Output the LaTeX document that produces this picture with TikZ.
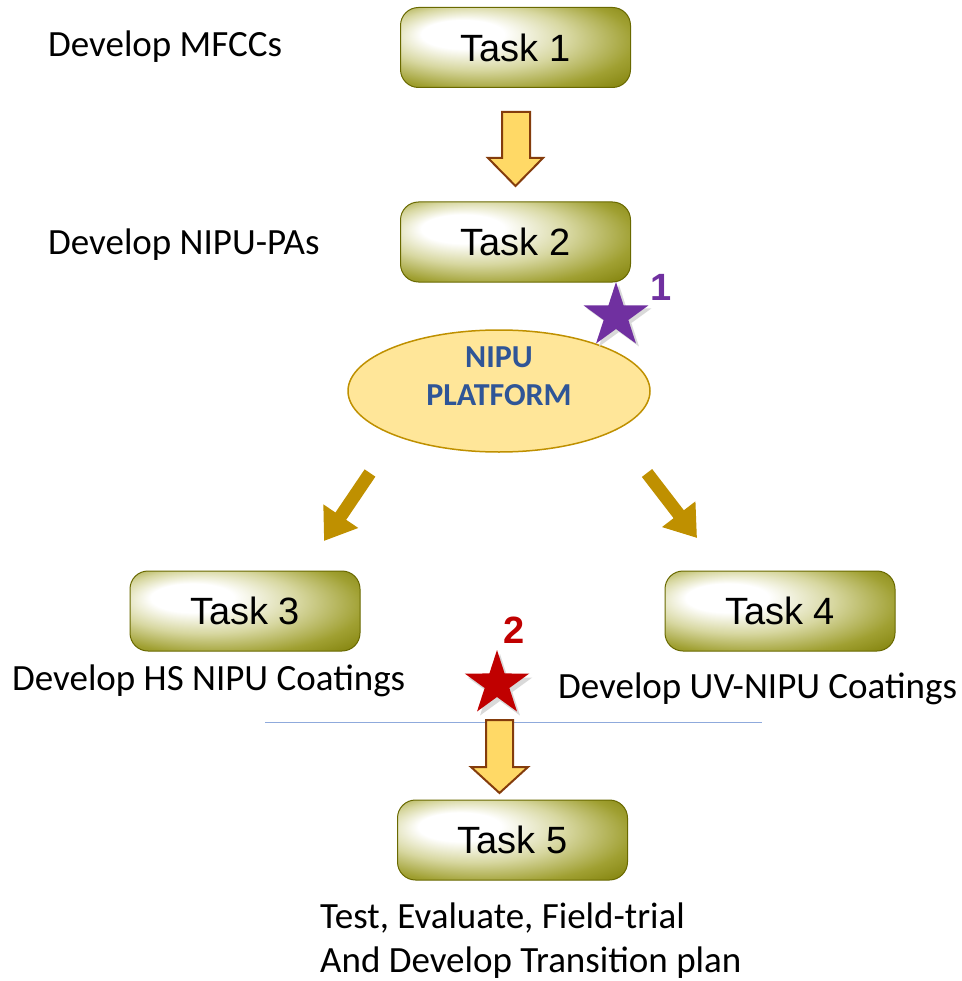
\documentclass[tikz,border=0pt]{standalone}
\usepackage{fontspec}
\setmainfont{Carlito}
\newfontfamily\arialf{Liberation Sans}
\usetikzlibrary{shapes.geometric,arrows.meta}
\definecolor{olv}{RGB}{125,125,5}
\definecolor{olvdark}{RGB}{105,105,0}
\definecolor{olvmid}{RGB}{160,160,50}
\definecolor{olvlight}{RGB}{215,215,160}
\definecolor{ellfill}{RGB}{255,230,153}
\definecolor{elldraw}{RGB}{191,144,0}
\definecolor{gold}{RGB}{191,144,0}
\definecolor{nipublue}{RGB}{47,85,151}
\definecolor{arrfill}{RGB}{255,217,102}
\definecolor{arrdraw}{RGB}{132,60,12}
\definecolor{starpurple}{RGB}{112,48,160}
\definecolor{starred}{RGB}{192,0,0}
\definecolor{linecol}{RGB}{143,170,220}
\pgfdeclareradialshading{taskshade}{\pgfpoint{-14bp}{10bp}}{%
  color(0bp)=(white); color(9bp)=(white); color(20bp)=(olvlight);
  color(31bp)=(olvmid); color(40bp)=(olv); color(50bp)=(olvdark)}
\tikzset{
  taskbox/.style={rounded corners=18pt, shading=taskshade, draw=olvdark,
    line width=1pt, minimum width=230pt, minimum height=80pt,
    font=\arialf\fontsize{38}{40}\selectfont, text=black},
  lbl/.style={anchor=west, inner sep=0pt, font=\fontsize{37}{40}\selectfont, text=black},
  blockarrow/.style={fill=arrfill, draw=arrdraw, line width=2pt, line join=miter},
  diagarrow/.style={draw=gold, line width=13pt, -{Triangle[width=40pt,length=30pt]}},
  starshape/.style={star, star points=5, star point ratio=2.618, inner sep=0pt,
    minimum size=68pt},
  starnum/.style={font=\arialf\bfseries\fontsize{38}{40}\selectfont, inner sep=0pt}
}
\begin{document}
\begin{tikzpicture}[x=1pt,y=-1pt]
\useasboundingbox (0,0) rectangle (961,981);
% boxes
\node[taskbox] (t1) at (515.5,47.5) {Task 1};
\node[taskbox] (t2) at (515.5,242) {Task 2};
\node[taskbox] (t3) at (245,611) {Task 3};
\node[taskbox] (t4) at (780,611) {Task 4};
\node[taskbox] (t5) at (512.5,840) {Task 5};
% labels
\node[lbl] (l1) at (48,47) {Develop MFCCs};
\node[lbl] (l2) at (48,245) {Develop NIPU-PAs};
\node[lbl] (l3) at (12,681) {Develop HS NIPU Coatings};
\node[lbl] (l4) at (558,689) {Develop UV-NIPU Coatings};
\node[lbl] (l5) at (320,918) {Test, Evaluate, Field-trial};
\node[lbl] (l6) at (320,963) {And Develop Transition plan};
% ellipse
\node[ellipse, fill=ellfill, draw=elldraw, line width=1.5pt, minimum width=302pt,
  minimum height=122pt] (np) at (499,391) {};
\node[align=center, text=nipublue, inner sep=0pt,
  font=\bfseries\fontsize{32}{38}\selectfont] (npt) at (499,376) {NIPU\\PLATFORM};
% separator line
\coordinate (la) at (265,722);
\coordinate (lb) at (762,722);
\draw[linecol, line width=1pt] (la) -- (lb);
% block arrows
\draw[blockarrow] (502,112) -- (530,112) -- (530,158) -- (543,158) -- (515.5,186)
  -- (488,158) -- (502,158) -- cycle;
\draw[blockarrow] (486,720) -- (513,720) -- (513,767) -- (528,767) -- (499.5,793)
  -- (471,767) -- (486,767) -- cycle;
% diagonal arrows
\coordinate (d3s) at (370,473);
\coordinate (d3e) at (324,541);
\coordinate (d4s) at (647,473);
\coordinate (d4e) at (697,538);
\draw[diagarrow] (d3s) -- (d3e);
\draw[diagarrow] (d4s) -- (d4e);
% stars
\node[starshape, fill=black!15] at (619,319) {};
\node[starshape, fill=starpurple] (s1) at (616,316) {};
\node[starnum, text=starpurple] (n1) at (661,287) {1};
\node[starshape, fill=black!15] at (500,688) {};
\node[starshape, fill=starred] (s2) at (497,684) {};
\node[starnum, text=starred] (n2) at (514,630) {2};
\end{tikzpicture}
\end{document}
